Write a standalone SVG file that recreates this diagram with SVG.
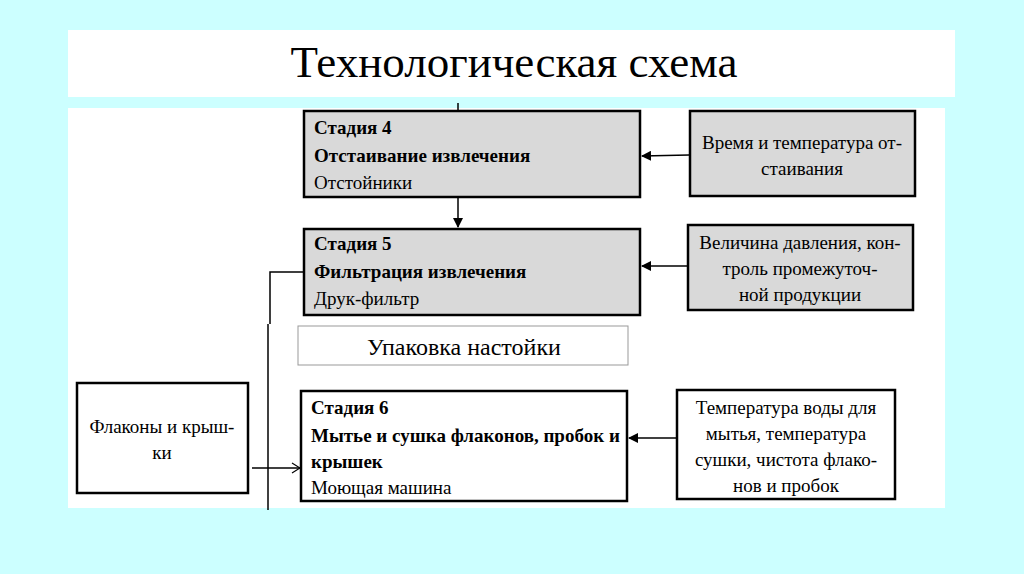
<svg xmlns="http://www.w3.org/2000/svg" width="1024" height="574" viewBox="0 0 1024 574">
<style>
.b{stroke:#000;stroke-width:2.5}
.g{fill:#d9d9d9}
.w{fill:#fff}
text{font-family:"Liberation Serif",serif;fill:#000}
.bd{font-weight:bold;font-size:19px}
.n{font-size:19px}
.c{font-size:19px;text-anchor:middle}
.ln{stroke:#000;stroke-width:1.5;fill:none}
</style>
<defs><marker id="a" markerWidth="10" markerHeight="10" refX="9" refY="5" orient="auto" markerUnits="userSpaceOnUse"><path d="M0,0L10,5L0,10z" fill="#000"/></marker>
<marker id="o" markerWidth="10" markerHeight="12" refX="9" refY="6" orient="auto" markerUnits="userSpaceOnUse"><path d="M1,1L9,6L1,11" fill="none" stroke="#000" stroke-width="1.2"/></marker></defs>
<rect width="1024" height="574" fill="#ccffff"/>
<rect x="68" y="30" width="887" height="67" fill="#fff"/>
<text x="514" y="77" font-size="45" text-anchor="middle">Технологическая схема</text>
<rect x="68" y="108" width="877" height="400" fill="#fff"/>
<g id="connectors">
<line class="ln" x1="458" y1="103" x2="458" y2="111"/>
<line class="ln" x1="458" y1="198" x2="458" y2="227" marker-end="url(#a)"/>
<line class="ln" x1="689" y1="155" x2="642" y2="156" marker-end="url(#a)"/>
<line class="ln" x1="687" y1="266" x2="642" y2="266" marker-end="url(#a)"/>
<line class="ln" x1="676" y1="438" x2="629" y2="438" marker-end="url(#a)"/>
<polyline class="ln" points="303,272 270,272 270,324"/>
<line class="ln" x1="268" y1="324" x2="268" y2="510"/>
<line class="ln" x1="252" y1="468" x2="300" y2="468" marker-end="url(#o)"/>
</g>
<g id="stage4"><rect class="b g" x="304" y="111" width="336" height="86"/>
<text x="314" y="134" class="bd">Стадия 4</text><text x="314" y="162" class="bd">Отстаивание извлечения</text><text x="314" y="189" class="n">Отстойники</text></g>
<g id="stage5"><rect class="b g" x="304" y="229" width="336" height="86"/>
<text x="314" y="250" class="bd">Стадия 5</text><text x="314" y="278" class="bd">Фильтрация извлечения</text><text x="314" y="305" class="n">Друк-фильтр</text></g>
<g id="pack"><rect x="298" y="326" width="330" height="39" fill="#fff" stroke="#999" stroke-width="1"/>
<text x="464" y="355" font-size="24" text-anchor="middle">Упаковка настойки</text></g>
<g id="stage6"><rect class="b w" x="301" y="391" width="326" height="110"/>
<text x="311" y="414" class="bd">Стадия 6</text><text x="311" y="442" class="bd">Мытье и сушка флаконов, пробок и</text><text x="311" y="468" class="bd">крышек</text><text x="311" y="494" class="n">Моющая машина</text></g>
<g id="r4"><rect class="b g" x="690" y="111" width="225" height="85"/>
<text x="802" y="149" class="c">Время и температура от-</text><text x="802" y="175" class="c">стаивания</text></g>
<g id="r5"><rect class="b g" x="688" y="225" width="225" height="85"/>
<text x="800" y="249" class="c">Величина давления, кон-</text><text x="800" y="275" class="c">троль промежуточ-</text><text x="800" y="301" class="c">ной продукции</text></g>
<g id="r6"><rect class="b w" x="677" y="390" width="218" height="109"/>
<text x="786" y="414" class="c">Температура воды для</text><text x="786" y="440" class="c">мытья, температура</text><text x="786" y="466" class="c">сушки, чистота флако-</text><text x="786" y="492" class="c">нов и пробок</text></g>
<g id="flak"><rect class="b w" x="77" y="383" width="171" height="110"/>
<text x="162" y="433" class="c">Флаконы и крыш-</text><text x="162" y="459" class="c">ки</text></g>
</svg>
